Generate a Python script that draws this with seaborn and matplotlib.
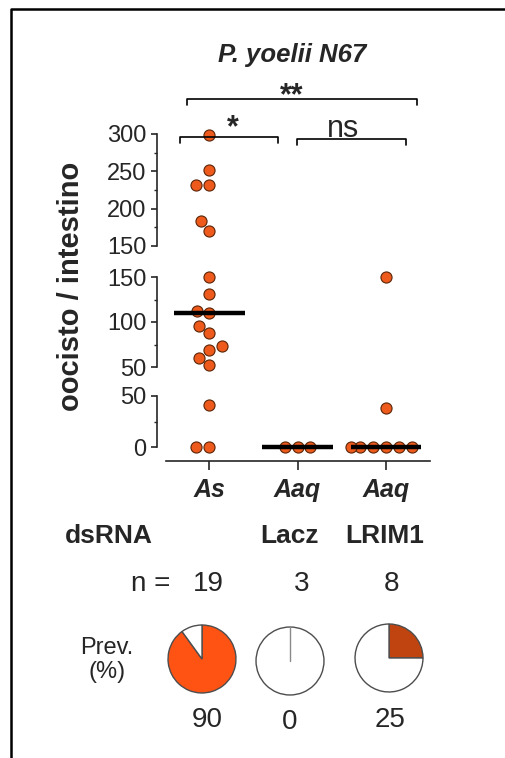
import numpy as np
import pandas as pd
import matplotlib
matplotlib.use("Agg")
import matplotlib.pyplot as plt
import seaborn as sns
from matplotlib.lines import Line2D

# ---------------- data ----------------
groups = ["As", "Lacz", "LRIM1"]
species_labels = ["As", "Aaq", "Aaq"]
dsrna_labels = ["Lacz", "LRIM1"]
as_values = [298, 252, 232, 232, 183, 170, 150, 131, 112, 110, 96, 88, 73, 69, 60, 52, 41, 0, 0]
lacz_values = [0, 0, 0]
lrim1_values = [150, 38, 0, 0, 0, 0, 0, 0]
n_counts = [19, 3, 8]
prevalence = [90, 0, 25]
pie_colors = ["#FF5314", "#FFFFFF", "#C0440F"]
segment_limits = [(150, 300), (50, 150), (0, 50)]
segment_major = [[150, 200, 250, 300], [50, 100, 150], [0, 50]]
segment_minor = [[175, 225, 275], [75, 125], [25]]

values_by_group = [as_values, lacz_values, lrim1_values]
df = pd.DataFrame({
    "group": sum([[g] * len(v) for g, v in zip(groups, values_by_group)], []),
    "value": sum(values_by_group, []),
})

# ---------------- style ----------------
sns.set_style("ticks")
plt.rcParams["font.family"] = ["Liberation Sans", "DejaVu Sans"]
plt.rcParams["axes.linewidth"] = 1.2

W, H = 506, 758
fig = plt.figure(figsize=(W / 100, H / 100), dpi=100)


def rect(x0, y0, x1, y1):
    return [x0 / W, 1 - y1 / H, (x1 - x0) / W, (y1 - y0) / H]


def fx(x):
    return x / W


def fy(y):
    return 1 - y / H


ax_top = fig.add_axes(rect(166, 134, 430, 246))
ax_mid = fig.add_axes(rect(166, 277, 430, 367))
ax_bot = fig.add_axes(rect(166, 396, 430, 461))
axes = [ax_top, ax_mid, ax_bot]

dot_color = "#EE5A1C"
dot_edge = "#5A2408"

bot_lower = -(461 - 447) * 50 / 51.0

for k, ax in enumerate(axes):
    lo, hi = segment_limits[k]
    if k == 0:
        sub = df[df["value"] > 150]
    elif k == 1:
        sub = df[(df["value"] >= 50) & (df["value"] <= 150)]
    else:
        sub = df[df["value"] < 50]
    sns.swarmplot(data=sub, x="group", y="value", order=groups, ax=ax,
                  color=dot_color, edgecolor=dot_edge, linewidth=0.8,
                  size=8.0, zorder=3)
    for c in ax.collections:
        c.set_clip_on(False)
    ax.set_xlim(-0.49, 2.5)
    if k == 2:
        ax.set_ylim(bot_lower, hi)
        ax.spines["left"].set_bounds(lo, hi)
    else:
        ax.set_ylim(lo, hi)
    ax.set_xlabel("")
    ax.set_ylabel("")
    ax.spines["top"].set_visible(False)
    ax.spines["right"].set_visible(False)
    ax.spines["left"].set_position(("outward", 6.5))
    ax.set_yticks(segment_major[k])
    ax.set_yticks(segment_minor[k], minor=True)
    ax.tick_params(axis="y", which="major", length=4.5, width=1.2,
                   labelsize=17, pad=3.0, direction="out")
    ax.tick_params(axis="y", which="minor", length=2.5, width=1.0,
                   direction="out")
    ax.patch.set_alpha(0)
    if k < 2:
        ax.spines["bottom"].set_visible(False)
        ax.tick_params(axis="x", bottom=False, labelbottom=False)
    else:
        ax.set_xticks(range(len(groups)))
        ax.set_xticklabels(species_labels, fontsize=18, fontweight="bold",
                           fontstyle="italic")
        ax.tick_params(axis="x", length=6.5, width=1.2, pad=6, direction="out")

# median lines
for i, vals in enumerate(values_by_group):
    m = float(np.median(vals))
    for k, ax in enumerate(axes):
        lo, hi = segment_limits[k]
        if lo <= m <= hi and not (k == 0 and m == 150):
            ax.hlines(m, i - 0.4, i + 0.4, color="black", lw=3.2, zorder=4,
                      clip_on=False)
            break

# y label
fig.text(fx(71), fy(286), "oocisto / intestino", rotation=90, ha="center",
         va="center", fontsize=21, fontweight="bold")

# title
fig.text(fx(292), fy(62), "P. yoelii N67", ha="center", va="baseline",
         fontsize=18.5, fontweight="bold", fontstyle="italic")


# significance brackets
def bracket(x0, x1, y, drop=6):
    fig.add_artist(Line2D([fx(x0), fx(x0), fx(x1), fx(x1)],
                          [fy(y + drop), fy(y), fy(y), fy(y + drop)],
                          transform=fig.transFigure, color="black", lw=1.2))


bracket(187, 417, 99)
bracket(180, 278, 137)
bracket(297, 406, 139)
fig.text(fx(292), fy(104), "**", ha="center", va="baseline", fontsize=22,
         fontweight="bold")
fig.text(fx(233), fy(136), "*", ha="center", va="baseline", fontsize=22,
         fontweight="bold")
fig.text(fx(343), fy(137), "ns", ha="center", va="baseline", fontsize=22)

# lower annotation table
fig.text(fx(65), fy(543), "dsRNA", ha="left", va="baseline", fontsize=19,
         fontweight="bold")
for xc, lab in zip([290, 385], dsrna_labels):
    fig.text(fx(xc), fy(543), lab, ha="center", va="baseline", fontsize=19,
             fontweight="bold")
fig.text(fx(170), fy(591), "n =", ha="right", va="baseline", fontsize=20)
for xc, n in zip([208, 302, 392], n_counts):
    fig.text(fx(xc), fy(591), str(n), ha="center", va="baseline", fontsize=20)
fig.text(fx(107), fy(660), "Prev.\n(%)", ha="center", va="center",
         fontsize=17, multialignment="center", linespacing=1.1)

pie_centers = [(202, 659), (290, 661), (389, 658)]
r = 34
for (cx, cy), p, col in zip(pie_centers, prevalence, pie_colors):
    pax = fig.add_axes(rect(cx - r - 1, cy - r - 1, cx + r + 1, cy + r + 1))
    wedges, _ = pax.pie([p, 100 - p], colors=[col, "white"], startangle=90,
                        counterclock=False,
                        wedgeprops=dict(edgecolor="#4d4d4d", linewidth=1.0))
    w0 = wedges[0]
    if np.isclose(w0.theta1, w0.theta2):
        # zero-size wedge: show its radial boundary as a thin line
        th = np.deg2rad(w0.theta2)
        pax.plot([0, np.cos(th)], [0, np.sin(th)], color="#8a8a8a", lw=1.0,
                 zorder=5)
    pax.set_xlim(-1.03, 1.03)
    pax.set_ylim(-1.03, 1.03)
    pax.set_aspect("equal")
    pax.axis("off")

for xc, yb, p in zip([207, 290, 390], [727, 729, 727], prevalence):
    fig.text(fx(xc), fy(yb), str(p), ha="center", va="baseline", fontsize=20)

# frame (top and left edges visible in the crop)
fig.add_artist(Line2D([fx(11), fx(11), fx(W - 0.5)],
                      [fy(H - 0.5), fy(9), fy(9)],
                      transform=fig.transFigure, color="black", lw=1.8))

fig.savefig("out.png", dpi=100)
